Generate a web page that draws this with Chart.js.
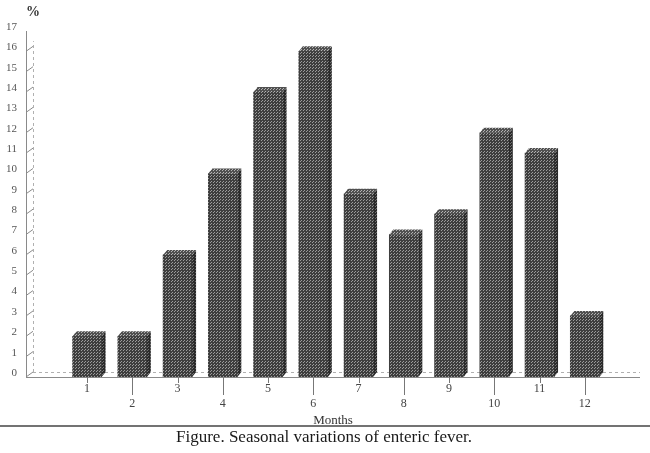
<!DOCTYPE html>
<html>
<head>
<meta charset="utf-8">
<script src="https://cdn.jsdelivr.net/npm/chart.js@4"></script>
<style>
  html, body { margin: 0; padding: 0; background: #ffffff; }
  #wrap { width: 650px; height: 453px; }
</style>
</head>
<body>
<div id="wrap"><canvas id="feverChart"></canvas></div>
<script>
// Months (x) and share of cases in % (y)
const months = [1, 2, 3, 4, 5, 6, 7, 8, 9, 10, 11, 12];
const cases = [2, 2, 6, 10, 14, 16, 9, 7, 8, 12, 11, 3];
const yTicks = [0, 1, 2, 3, 4, 5, 6, 7, 8, 9, 10, 11, 12, 13, 14, 15, 16, 17];

const serif = "'Liberation Serif', 'DejaVu Serif', serif";
const DX = 4, DY = 5; // depth of the fake 3D

// halftone texture for the bars
function dotPattern(base, dot) {
  const c = document.createElement("canvas");
  c.width = 3; c.height = 3;
  const g = c.getContext("2d");
  g.fillStyle = base;
  g.fillRect(0, 0, 3, 3);
  g.fillStyle = dot;
  g.fillRect(1, 1, 1, 1);
  g.fillRect(0, 2, 1, 1);
  return g.createPattern(c, "repeat");
}

const ctx = document.getElementById("feverChart").getContext("2d");
const frontFill = dotPattern("#3e3e3e", "#9c9c9c");
const topFill = dotPattern("#505050", "#b4b4b4");
const sideFill = dotPattern("#2a2a2a", "#707070");

// floor, back wall, y slashes, x ticks, 3D faces, captions
const box3d = {
  id: "box3d",
  beforeDatasetsDraw(chart) {
    const { ctx, chartArea: a, scales: { x, y } } = chart;
    ctx.save();
    ctx.lineWidth = 1;
    // floor
    ctx.strokeStyle = "#8a8a8a";
    ctx.beginPath();
    ctx.moveTo(a.left, a.bottom + 0.5);
    ctx.lineTo(a.right, a.bottom + 0.5);
    ctx.moveTo(a.left, a.bottom);
    ctx.lineTo(a.left + DX + 3, a.bottom - DY);
    ctx.stroke();
    ctx.setLineDash([3, 3]);
    ctx.strokeStyle = "#b0b0b0";
    ctx.beginPath();
    ctx.moveTo(a.left + DX + 3, a.bottom - DY + 0.5);
    ctx.lineTo(a.right, a.bottom - DY + 0.5);
    // back wall
    ctx.moveTo(a.left + DX + 3.5, a.bottom - DY);
    ctx.lineTo(a.left + DX + 3.5, y.getPixelForValue(16.5));
    ctx.stroke();
    ctx.setLineDash([]);
    // y slashes
    ctx.strokeStyle = "#8a8a8a";
    ctx.beginPath();
    yTicks.forEach(v => {
      if (v === 0 || v === 17) return;
      const py = y.getPixelForValue(v);
      ctx.moveTo(a.left, py);
      ctx.lineTo(a.left + DX + 3, py - DY);
    });
    ctx.stroke();
    // x ticks, even months hang lower
    ctx.strokeStyle = "#777";
    ctx.beginPath();
    months.forEach(m => {
      const px = Math.round(x.getPixelForValue(m)) + 0.5;
      ctx.moveTo(px, a.bottom);
      ctx.lineTo(px, a.bottom + (m % 2 ? 6 : 18));
    });
    ctx.stroke();
    ctx.restore();
  },
  afterDatasetsDraw(chart) {
    const { ctx } = chart;
    const meta = chart.getDatasetMeta(0);
    ctx.save();
    meta.data.forEach(bar => {
      const l = bar.x - bar.width / 2, r = bar.x + bar.width / 2;
      const t = bar.y, b = bar.base;
      ctx.fillStyle = topFill;
      ctx.beginPath();
      ctx.moveTo(l, t);
      ctx.lineTo(l + DX, t - DY);
      ctx.lineTo(r + DX, t - DY);
      ctx.lineTo(r, t);
      ctx.closePath();
      ctx.fill();
      ctx.fillStyle = sideFill;
      ctx.beginPath();
      ctx.moveTo(r, t);
      ctx.lineTo(r + DX, t - DY);
      ctx.lineTo(r + DX, b - DY);
      ctx.lineTo(r, b);
      ctx.closePath();
      ctx.fill();
    });
    ctx.restore();
  },
  afterDraw(chart) {
    const { ctx, width } = chart;
    ctx.save();
    ctx.fillStyle = "#333";
    ctx.font = "bold 14px " + serif;
    ctx.textAlign = "left";
    ctx.textBaseline = "middle";
    ctx.fillText("%", 26, 12);
    // rule above the caption
    ctx.strokeStyle = "#444";
    ctx.lineWidth = 1.5;
    ctx.beginPath();
    ctx.moveTo(0, 426);
    ctx.lineTo(width, 426);
    ctx.stroke();
    ctx.fillStyle = "#1a1a1a";
    ctx.font = "17px " + serif;
    ctx.textAlign = "center";
    ctx.fillText("Figure. Seasonal variations of enteric fever.", 324, 438);
    ctx.restore();
  }
};

new Chart(ctx, {
  type: "bar",
  data: {
    datasets: [{
      label: "Enteric fever (%)",
      data: months.map((m, i) => ({ x: m, y: cases[i] })),
      backgroundColor: frontFill,
      borderWidth: 0,
      barThickness: 29
    }]
  },
  options: {
    responsive: true,
    maintainAspectRatio: false,
    animation: false,
    layout: { padding: { left: 0, right: 10, top: 31, bottom: 25 } },
    plugins: {
      legend: { display: false },
      tooltip: { enabled: false }
    },
    scales: {
      x: {
        type: "linear",
        offset: false,
        min: -0.35,
        max: 13.22,
        afterBuildTicks: s => { s.ticks = months.map(m => ({ value: m })); },
        afterFit: s => { s.height = 51; },
        grid: { display: false, drawTicks: false },
        border: { display: false },
        ticks: {
          padding: 5,
          maxRotation: 0,
          autoSkip: false,
          color: "#444",
          font: { family: serif, size: 12 },
          callback: v => (v % 2 ? String(v) : ["", String(v)])
        },
        title: {
          display: true,
          text: "Months",
          color: "#333",
          padding: 0,
          font: { family: serif, size: 13 }
        }
      },
      y: {
        min: 0,
        max: 17,
        afterBuildTicks: s => { s.ticks = yTicks.map(v => ({ value: v })); },
        afterFit: s => { s.width = 26; },
        grid: { display: false, drawTicks: false },
        border: { display: true, color: "#8a8a8a", width: 1 },
        ticks: {
          padding: 9,
          labelOffset: -4,
          color: "#555",
          font: { family: serif, size: 11 }
        }
      }
    }
  },
  plugins: [box3d]
});
</script>
</body>
</html>
